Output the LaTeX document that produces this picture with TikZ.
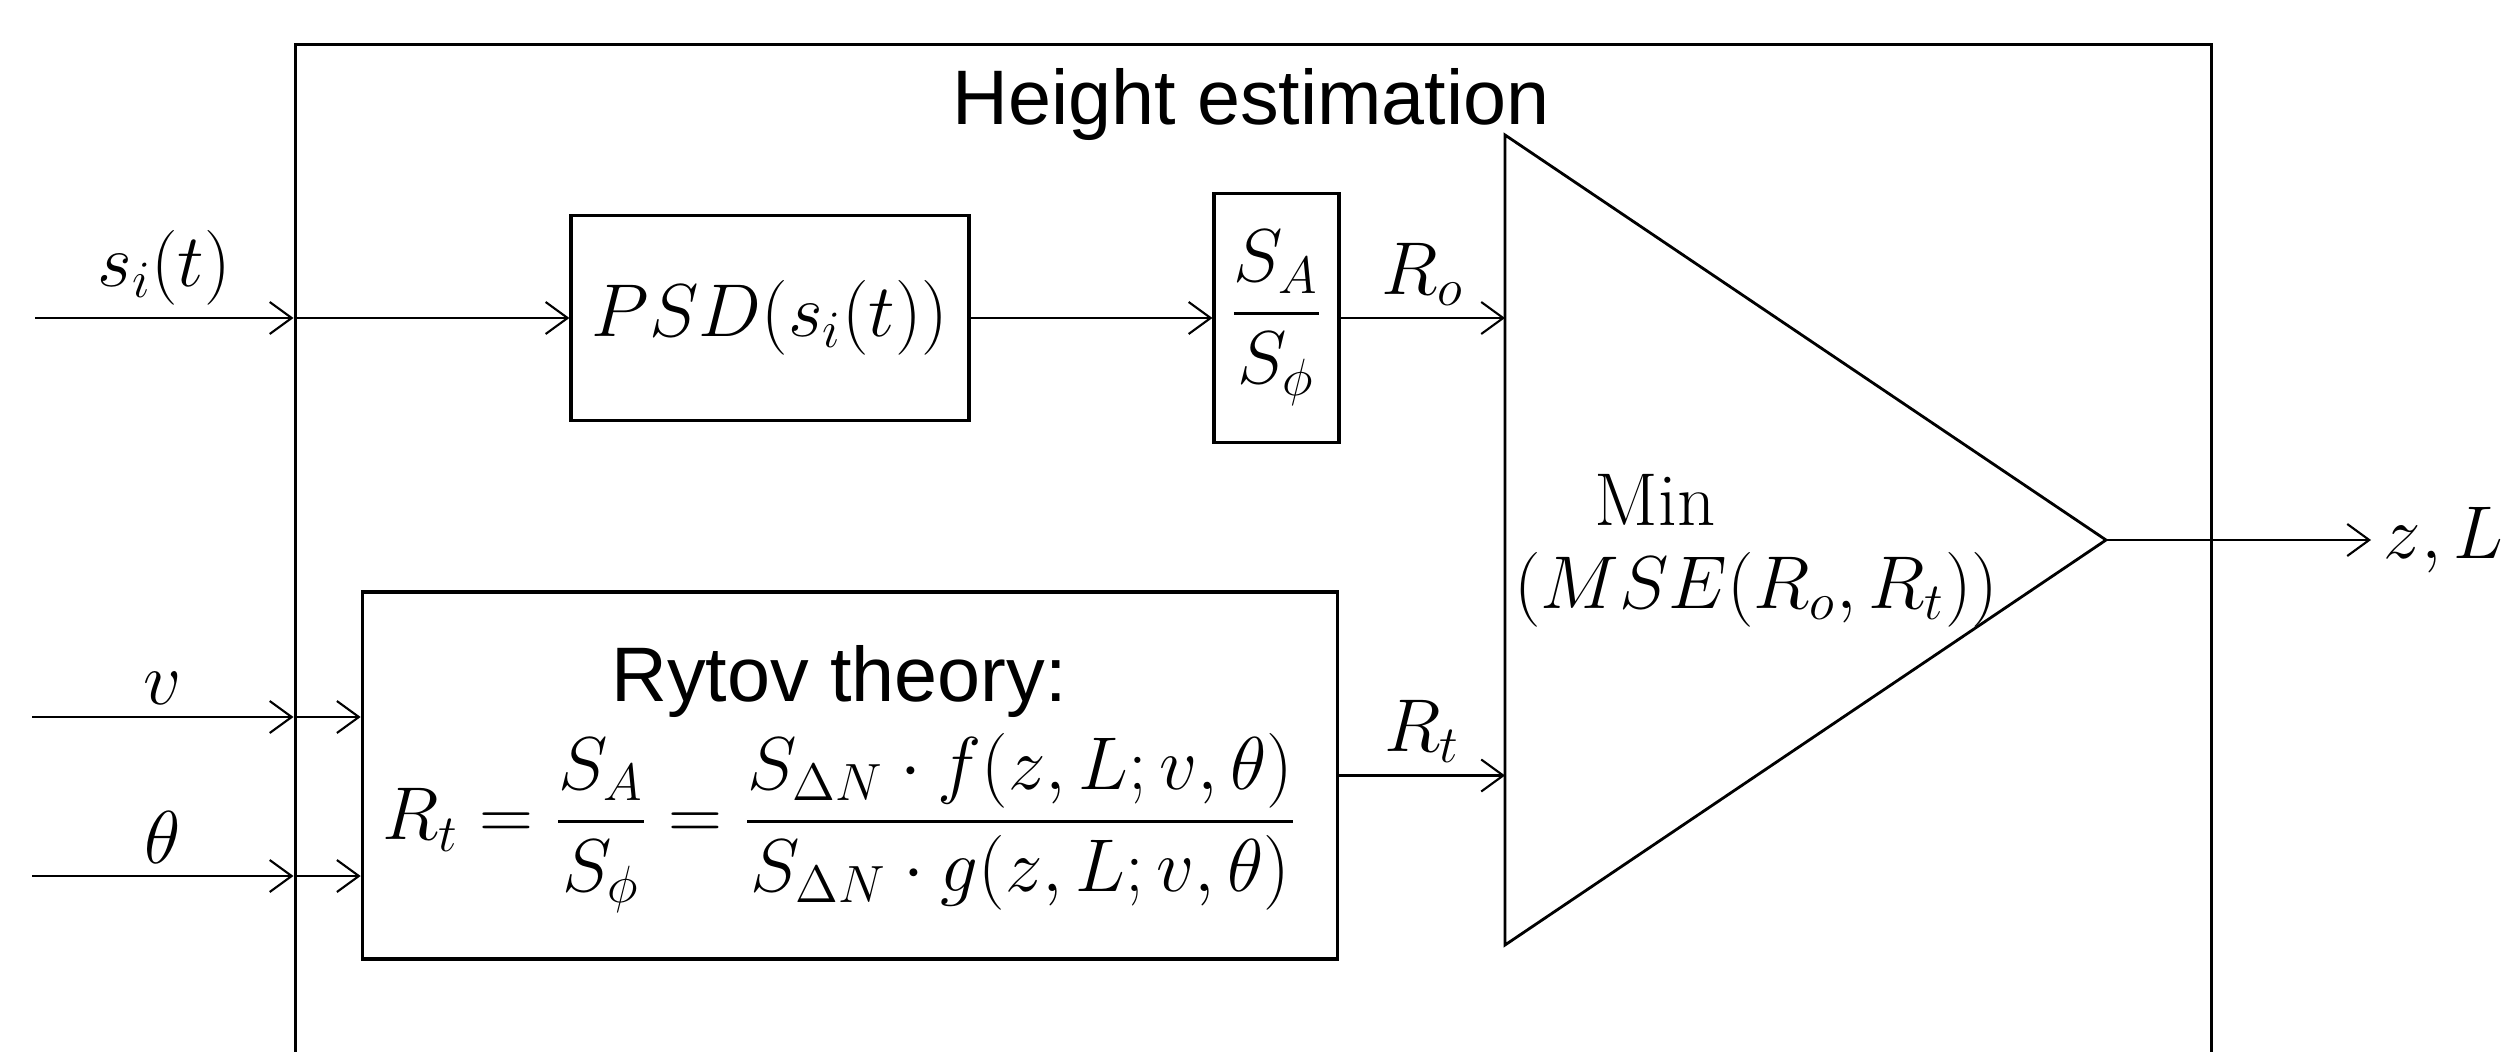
\RequirePackage{fix-cm}
\documentclass[tikz,border=0pt]{standalone}
\usepackage{amsmath,amssymb}
\usepackage{fontspec}
\newfontfamily\arialfont{Liberation Sans}
\usetikzlibrary{positioning,arrows.meta,calc}

\tikzset{
  blk/.style={draw, line width=0.9pt, inner sep=0pt},
  sig/.style={-{Straight Barb[length=2.2mm, width=3.2mm]}, line width=0.6pt},
  heading/.style={font=\arialfont\fontsize{22}{26}\selectfont},
}

\begin{document}
\begin{tikzpicture}[font=\fontsize{21.3}{25}\selectfont]
  \useasboundingbox (0,0) rectangle (25.15,-10.51);
  \clip (0,0) rectangle (25.15,-10.51);

  % Outer block (runs past the lower edge)
  \node[blk, anchor=north west, minimum width=19.165cm, minimum height=12cm] (he) at (2.935,-0.43) {};
  \node[heading, anchor=base] (title) at (12.51,-1.25) {Height estimation};

  % Blocks
  \node[blk, minimum width=3.98cm, minimum height=2.05cm] (psd) at (7.70,-3.18) {$PSD(s_i(t))$};
  \node[blk, minimum width=1.25cm, minimum height=2.49cm] (ratio) at (12.765,-3.18) {$\dfrac{S_A}{S_\phi}$};
  \node[blk, minimum width=9.755cm, minimum height=3.67cm] (rytov) at (8.50,-7.755) {};
  \node[heading] (rytovtitle) at (8.39,-6.82) {Rytov theory:};
  \node (rytoveq) at (8.40,-8.23) {$R_t=\dfrac{S_A}{S_\phi}=\dfrac{S_{\Delta N}\cdot f(z,L;v,\theta)}{S_{\Delta N}\cdot g(z,L;v,\theta)}$};

  % Minimiser
  \coordinate (mintop) at (15.05,-1.35);
  \coordinate (minbot) at (15.05,-9.45);
  \coordinate (mintip) at (21.06,-5.40);
  \draw[line width=0.8pt] (mintop) -- (mintip) -- (minbot) -- cycle;
  \node (minlbl) at (16.55,-5.00) {$\mathrm{Min}$};
  \node (mselbl) at (17.56,-5.90) {$(MSE(R_o,R_t))$};

  % Inputs and output
  \coordinate (sin) at (0.35,-3.18);
  \coordinate (vin) at (0.32,-7.17);
  \coordinate (thin) at (0.32,-8.76);
  \coordinate (out) at (23.71,-5.40);

  \draw[sig] (sin) -- node[above] {$s_i(t)$} (sin -| he.west);
  \draw[sig] (sin -| he.west) -- (psd.west);
  \draw[sig] (vin) -- node[above] {$v$} (vin -| he.west);
  \draw[sig] (vin -| he.west) -- (vin -| rytov.west);
  \draw[sig] (thin) -- node[above] {$\theta$} (thin -| he.west);
  \draw[sig] (thin -| he.west) -- (thin -| rytov.west);

  \draw[sig] (psd.east) -- (ratio.west);
  \draw[sig] (ratio.east) -- node[above] {$R_o$} (ratio.east -| mintop);
  \draw[sig] (rytov.east) -- node[above] {$R_t$} (rytov.east -| mintop);
  \draw[sig] (mintip) -- (out) node[right] (outlbl) {$z,L$};
\end{tikzpicture}
\end{document}
